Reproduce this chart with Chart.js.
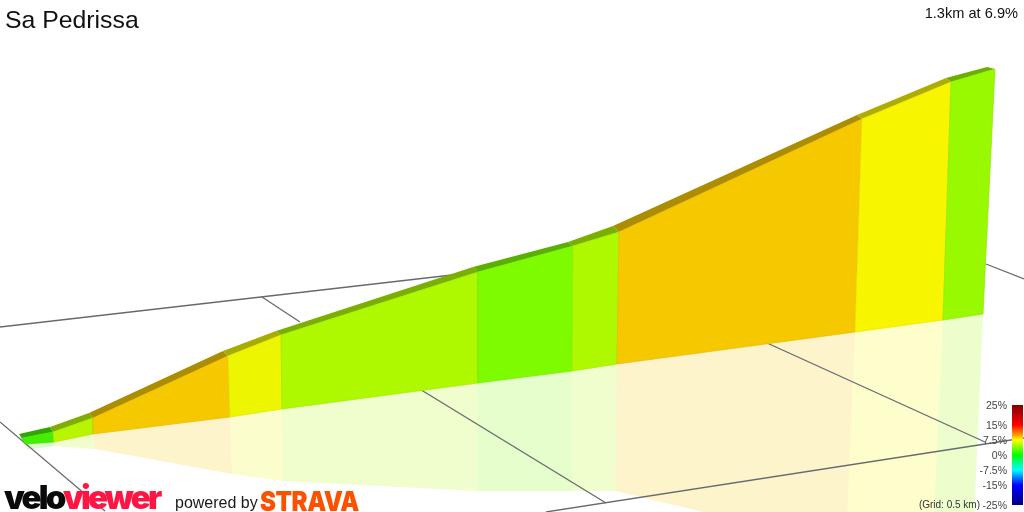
<!DOCTYPE html>
<html>
<head>
<meta charset="utf-8">
<title>Sa Pedrissa</title>
<script src="https://cdn.jsdelivr.net/npm/chart.js@4"></script>
<style>
  html, body { margin: 0; background: #fff; }
  #wrap { position: relative; width: 1024px; height: 512px; overflow: hidden; font-family: "Liberation Sans", Arial, sans-serif; color: #222; }
  #wrap canvas { position: absolute; left: 0; top: 0; }
  .txt { position: absolute; white-space: nowrap; }
  #title { left: 5px; top: 6px; font-size: 24.8px; color: #111; }
  #summary { right: 6px; top: 5px; font-size: 14.6px; color: #111; }
  #gridNote { right: 44px; top: 499px; font-size: 10px; color: #333; }
  .gradeLabel { right: 17px; font-size: 10.5px; line-height: 12px; color: #444; }
  #gradeBar { position: absolute; left: 1012px; top: 405px; width: 11px; height: 100px; }
  #velo { left: 4px; top: 477px; font: 900 33px Inter, sans-serif; letter-spacing: -2.8px; color: #0a0a0a; }
  #velo span { color: #ff1544; }
  #powered { left: 175px; top: 494px; font: 16px "Liberation Sans", sans-serif; color: #1a1a1a; }
  #strava { left: 260px; top: 485px; font: 900 27px Inter, sans-serif; letter-spacing: -0.5px; color: #fc5200; transform: scaleX(0.89); transform-origin: left; }
</style>
</head>
<body>
<div id="wrap">
  <canvas id="profile" width="1024" height="512"></canvas>
  <div class="txt" id="title">Sa Pedrissa</div>
  <div class="txt" id="summary">1.3km at 6.9%</div>
  <div id="gradeBar"></div>
  <div class="txt" id="gridNote">(Grid: 0.5 km)</div>
  <div class="txt" id="velo">velo<span>viewer</span></div>
  <div class="txt" id="powered">powered by</div>
  <div class="txt" id="strava">STRAVA</div>
</div>
<script>
// profile edges, one entry per segment boundary
const frontTopX  = [22, 53, 93, 228, 281, 478, 573, 619, 862, 951, 995];
const frontTopY  = [438, 432, 418, 356, 335, 272, 246, 232, 119, 82, 69];
const backTopX   = [19, 50, 89, 223, 276, 473, 568, 613, 857, 946, 987];
const backTopY   = [434, 427, 413, 351, 331, 267, 242, 226, 115, 78, 67];
const baseX      = [25, 54, 93, 230, 282, 478, 572, 617, 855, 943, 983];
const baseY      = [444, 442, 434, 417, 409, 383, 371, 364, 332, 320, 314];
const shadowX    = [27, 54, 95, 232, 283, 478, 572, 615, 846, 932, 972];
const shadowY    = [450, 446, 449, 474, 481, 491, 491, 491, 546, 562, 570];

const bandColors = ["#44ee00", "#b8f500", "#f5c800", "#eef500", "#aef800", "#7ffb00",
                    "#aef800", "#f5c800", "#f8f500", "#99f900"];

// ground grid, pairs of points
const gridLineX = [[0, 478], [262, 300], [986, 1024], [767, 985], [546, 1024], [418, 606], [0, 105]];
const gridLineY = [[327, 272], [297, 322], [264, 279], [343, 442], [512, 438], [388, 503], [422, 511]];

const gradeTicks = [25, 15, 7.5, 0, -7.5, -15, -25];
const gradeStops = ["#800000", "#ff0000", "#ffa000", "#ffff00", "#00ff00", "#00ffff", "#0000ff", "#000080"];
const gradeStopAt = [25, 15, 10, 7.5, 0, -7.5, -15, -25];

function rgb(hex) {
  return [1, 3, 5].map(i => parseInt(hex.slice(i, i + 2), 16));
}
function shade(hex, k) {
  const c = rgb(hex).map(v => Math.round(v * k));
  return `rgb(${c[0]},${c[1]},${c[2]})`;
}
function alpha(hex, a) {
  const c = rgb(hex);
  return `rgba(${c[0]},${c[1]},${c[2]},${a})`;
}

function polygon(xs, ys, fill, edge) {
  return {
    data: xs.map((x, i) => ({ x, y: ys[i] })),
    showLine: true,
    fill: "shape",
    backgroundColor: fill,
    borderColor: edge || "transparent",
    borderWidth: edge ? 0.7 : 0,
    pointRadius: 0,
    tension: 0
  };
}

function band(xa, ya, xb, yb, i, fill, edge) {
  return polygon(
    [xa[i], xa[i + 1], xb[i + 1], xb[i], xa[i]],
    [ya[i], ya[i + 1], yb[i + 1], yb[i], ya[i]],
    fill, edge
  );
}

const layers = [];
bandColors.forEach((c, i) => layers.push(band(baseX, baseY, shadowX, shadowY, i, alpha(c, 0.2))));
gridLineX.forEach((xs, i) => layers.push({
  data: xs.map((x, k) => ({ x, y: gridLineY[i][k] })),
  showLine: true,
  fill: false,
  borderColor: "#666a6e",
  borderWidth: 1.3,
  pointRadius: 0
}));
// dark end cap at the start of the climb
layers.push(polygon(
  [backTopX[0], frontTopX[0], baseX[0], backTopX[0]],
  [backTopY[0], frontTopY[0], baseY[0], backTopY[0]],
  "#6b6b6b"
));
bandColors.forEach((c, i) => layers.push(band(backTopX, backTopY, frontTopX, frontTopY, i, shade(c, 0.7))));
bandColors.forEach((c, i) => layers.push(band(frontTopX, frontTopY, baseX, baseY, i, c, shade(c, 0.93))));

new Chart(document.getElementById("profile"), {
  type: "scatter",
  data: { datasets: layers.reverse() },
  options: {
    responsive: false,
    animation: false,
    events: [],
    layout: { padding: 0 },
    scales: {
      x: { type: "linear", min: 0, max: 1024, display: false },
      y: { type: "linear", min: 0, max: 512, reverse: true, display: false }
    },
    plugins: { legend: { display: false }, tooltip: { enabled: false } }
  }
});

// grade legend
const gradeY = g => 455 - g * 2;
const bar = document.getElementById("gradeBar");
bar.style.background = "linear-gradient(to bottom," +
  gradeStops.map((c, i) => `${c} ${gradeY(gradeStopAt[i]) - 405}%`).join(",") + ")";
gradeTicks.forEach(g => {
  const el = document.createElement("div");
  el.className = "txt gradeLabel";
  el.textContent = `${g}%`;
  el.style.top = `${gradeY(g) - 6}px`;
  document.getElementById("wrap").appendChild(el);
});
</script>
</body>
</html>
